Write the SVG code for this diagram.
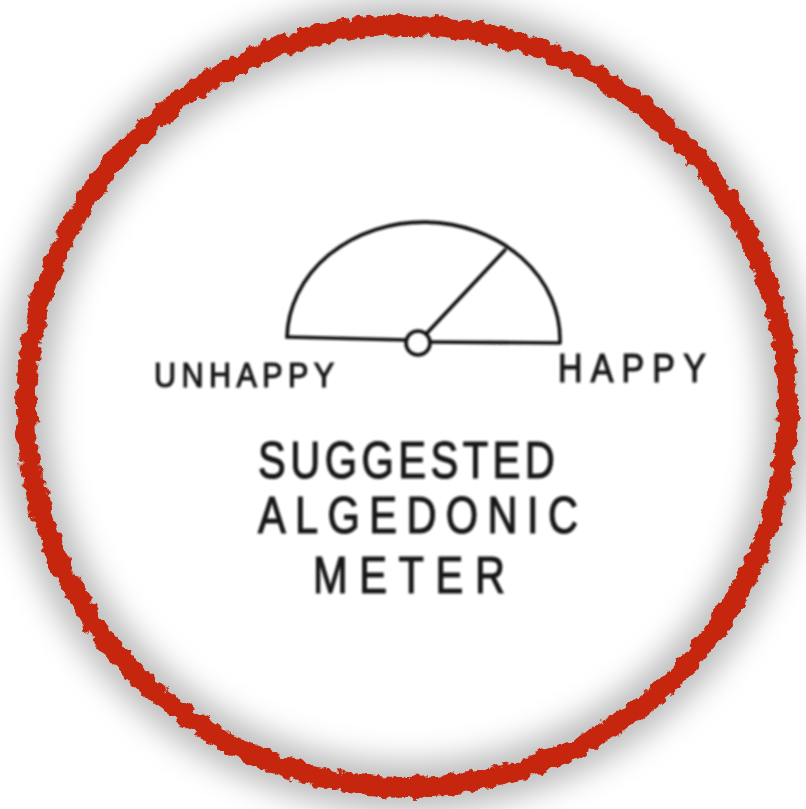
<svg xmlns="http://www.w3.org/2000/svg" width="806" height="809" viewBox="0 0 806 809">
  <style>
    .ink { fill: none; stroke: #111; stroke-width: 3.6; stroke-linecap: round; stroke-linejoin: round; }
    .lbl { font-family: "Liberation Sans", Arial, sans-serif; fill: #141414; stroke: #141414; stroke-width: 1.2; }
  </style>
  <defs>
    <filter id="shadow" x="-20%" y="-20%" width="140%" height="140%">
      <feGaussianBlur stdDeviation="15"/>
    </filter>
    <filter id="rough" x="-10%" y="-10%" width="120%" height="120%">
      <feTurbulence type="fractalNoise" baseFrequency="0.09" numOctaves="3" seed="4" result="n"/>
      <feDisplacementMap in="SourceGraphic" in2="n" scale="12" xChannelSelector="R" yChannelSelector="G"/>
    </filter>
    <filter id="scan" x="-5%" y="-5%" width="110%" height="110%">
      <feGaussianBlur stdDeviation="0.9"/>
    </filter>
  </defs>
  <rect width="806" height="809" fill="#ffffff"/>
  <g id="frame">
    <circle cx="407" cy="406" r="381" fill="none" stroke="#000" stroke-opacity="0.26" stroke-width="50" filter="url(#shadow)"/>
    <circle cx="407" cy="406" r="381" fill="none" stroke="#c6250b" stroke-width="20" filter="url(#rough)"/>
  </g>
  <g id="meter" filter="url(#scan)">
    <path class="ink" d="M287,337 A136,117 0 0 1 560,342"/>
    <path class="ink" d="M287,337 L406,340"/>
    <path class="ink" d="M431,342 L560,343"/>
    <path class="ink" d="M427,333 L505,250"/>
    <circle class="ink" cx="418" cy="343" r="12" fill="#fff"/>
  </g>
  <g id="label-unhappy" filter="url(#scan)">
    <text class="lbl" transform="translate(154,387) scale(0.85,1)" font-size="36" textLength="212" lengthAdjust="spacing">UNHAPPY</text>
  </g>
  <g id="label-happy" filter="url(#scan)">
    <text class="lbl" transform="translate(558,382) scale(0.85,1)" font-size="40" textLength="174" lengthAdjust="spacing">HAPPY</text>
  </g>
  <g id="title" filter="url(#scan)">
    <text class="lbl" transform="translate(258,478) scale(0.8,1)" font-size="52" textLength="371" lengthAdjust="spacing">SUGGESTED</text>
    <text class="lbl" transform="translate(258,533) scale(0.8,1)" font-size="52" textLength="400" lengthAdjust="spacing">ALGEDONIC</text>
    <text class="lbl" transform="translate(313,593) scale(0.8,1)" font-size="52" textLength="240" lengthAdjust="spacing">METER</text>
  </g>
  <g id="connectors"/>
</svg>
